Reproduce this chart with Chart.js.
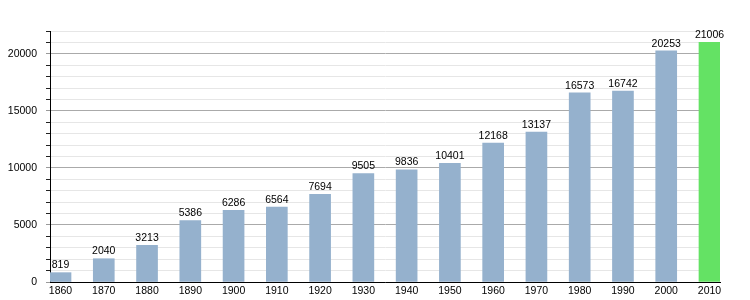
<!DOCTYPE html>
<html>
<head>
<meta charset="utf-8">
<script src="https://cdn.jsdelivr.net/npm/chart.js@4/dist/chart.umd.min.js"></script>
<style>
  html, body { margin: 0; padding: 0; background: #fff; }
  #wrap { width: 750px; height: 300px; }
</style>
</head>
<body>
<div id="wrap"><canvas id="chart"></canvas></div>
<script>
// population by census year
const years = [1860, 1870, 1880, 1890, 1900, 1910, 1920, 1930, 1940, 1950, 1960, 1970, 1980, 1990, 2000, 2010];
const population = [819, 2040, 3213, 5386, 6286, 6564, 7694, 9505, 9836, 10401, 12168, 13137, 16573, 16742, 20253, 21006];
const barColors = years.map(y => y === 2010 ? '#64e264' : '#95b1cd');

const font = { family: "'Liberation Sans', Arial, sans-serif", size: 10.5 };
const pad = 2.43; // years of space left/right of the outer bars

// draws the number above each bar
const valueLabels = {
  id: 'valueLabels',
  afterDatasetsDraw(chart){
    const ctx = chart.ctx;
    const meta = chart.getDatasetMeta(0);
    ctx.save();
    ctx.font = font.size + 'px ' + font.family;
    ctx.fillStyle = '#000';
    ctx.textAlign = 'center';
    ctx.textBaseline = 'bottom';
    meta.data.forEach((bar, i) => {
      ctx.fillText(String(population[i]), bar.x, bar.y - 2);
    });
    ctx.restore();
  }
};

new Chart(document.getElementById('chart'), {
  type: 'bar',
  data: {
    datasets: [{
      data: years.map((y, i) => ({ x: y, y: population[i] })),
      backgroundColor: barColors,
      borderWidth: 0,
      barThickness: 21
    }]
  },
  options: {
    responsive: true,
    maintainAspectRatio: false,
    animation: false,
    layout: { padding: { top: 31, right: 30, left: 0, bottom: 0 } },
    plugins: {
      legend: { display: false },
      tooltip: { enabled: false }
    },
    scales: {
      x: {
        type: 'linear',
        offset: false,
        min: years[0] - pad,
        max: years[years.length - 1] + pad,
        afterBuildTicks: axis => { axis.ticks = years.map(v => ({ value: v })); },
        afterFit: scale => { scale.height = 18; },
        grid: { display: false, drawTicks: false },
        border: { display: true, color: '#000', width: 1 },
        ticks: {
          autoSkip: false,
          maxRotation: 0,
          padding: 3,
          color: '#000',
          font: font,
          callback: v => String(v)
        }
      },
      y: {
        min: 0,
        max: 22000,
        afterFit: scale => { scale.width = 50; },
        afterBuildTicks: axis => {
          let t = [];
          for (let v = 0; v <= 22000; v += 1000) t.push({ value: v });
          axis.ticks = t;
        },
        grid: {
          color: c => (c.tick && c.tick.value % 5000 === 0) ? '#aaaaaa' : '#e6e6e6',
          tickColor: c => (c.tick && c.tick.value % 5000 === 0) ? '#999999' : '#222222',
          tickLength: 4,
          lineWidth: 1
        },
        border: { display: true, color: '#000', width: 1 },
        ticks: {
          autoSkip: false,
          padding: 9,
          color: '#000',
          font: font,
          callback: v => (v % 5000 === 0 ? String(v) : '')
        }
      }
    }
  },
  plugins: [valueLabels]
});
</script>
</body>
</html>
